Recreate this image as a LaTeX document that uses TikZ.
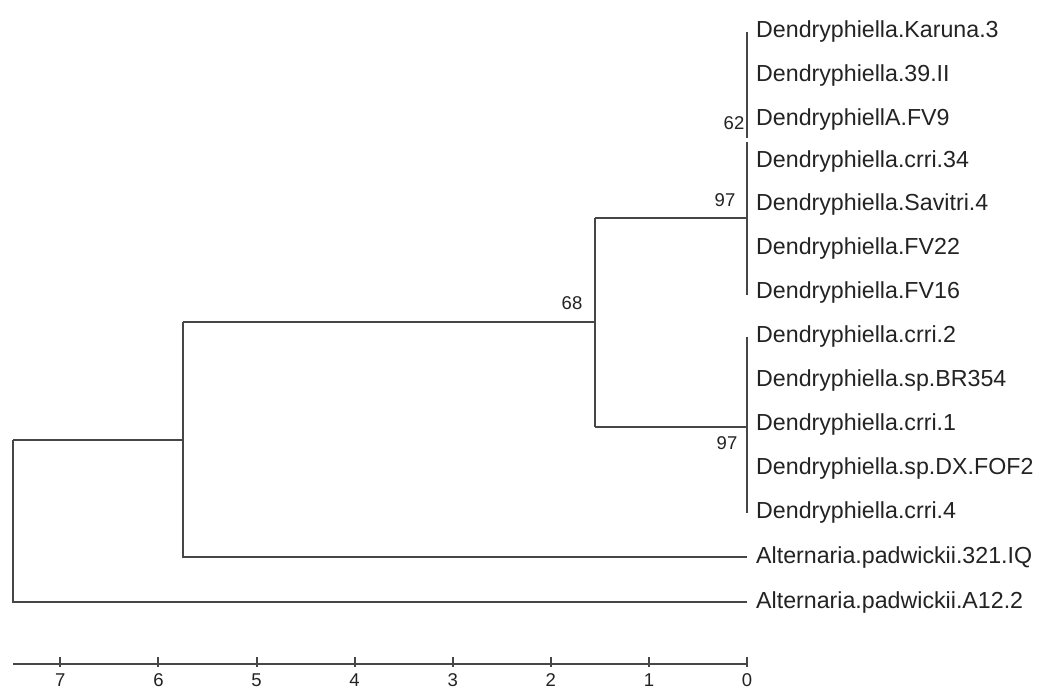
\documentclass[tikz,border=0pt]{standalone}
\usepackage{fontspec}
\setmainfont{Liberation Sans}
\usetikzlibrary{calc}
\definecolor{treeline}{RGB}{70,70,70}
\definecolor{txt}{RGB}{35,35,35}
\begin{document}
\begin{tikzpicture}[x=1pt,y=-1pt,
  branch/.style={draw=treeline,line width=2pt},
  leaf/.style={anchor=west,inner sep=0pt,font=\fontsize{23.2}{24}\selectfont,text=txt},
  boot/.style={inner sep=0pt,font=\fontsize{18.5}{20}\selectfont,text=txt},
  axlab/.style={anchor=base,inner sep=0pt,font=\fontsize{18.5}{20}\selectfont,text=txt}]
\useasboundingbox (0,0) rectangle (1040,689);
\fill[white] (0,0) rectangle (1040,689);
% leaves
\node[leaf] (L1) at (756,31) {Dendryphiella.Karuna.3};
\node[leaf] (L2) at (756,75) {Dendryphiella.39.II};
\node[leaf] (L3) at (756,119) {DendryphiellA.FV9};
\node[leaf] (L4) at (756,161) {Dendryphiella.crri.34};
\node[leaf] (L5) at (756,204) {Dendryphiella.Savitri.4};
\node[leaf] (L6) at (756,248) {Dendryphiella.FV22};
\node[leaf] (L7) at (756,292) {Dendryphiella.FV16};
\node[leaf] (L8) at (756,336) {Dendryphiella.crri.2};
\node[leaf] (L9) at (756,380) {Dendryphiella.sp.BR354};
\node[leaf] (L10) at (756,424) {Dendryphiella.crri.1};
\node[leaf] (L11) at (756,468) {Dendryphiella.sp.DX.FOF2};
\node[leaf] (L12) at (756,512) {Dendryphiella.crri.4};
\node[leaf] (L13) at (756,557) {Alternaria.padwickii.321.IQ};
\node[leaf] (L14) at (756,602) {Alternaria.padwickii.A12.2};
% internal nodes
\coordinate (root) at (13,440);
\coordinate (rootb) at (13,602);
\coordinate (n1) at (183,440);
\coordinate (n1t) at (183,322);
\coordinate (n1b) at (183,557);
\coordinate (n68) at (595,322);
\coordinate (n68t) at (595,218);
\coordinate (n68b) at (595,427);
\coordinate (c97a) at (747,218);
\coordinate (c62t) at (747,32);
\coordinate (c62b) at (747,138);
\coordinate (c97at) at (747,142);
\coordinate (c97ab) at (747,295);
\coordinate (c97b) at (747,427);
\coordinate (c97bt) at (747,337);
\coordinate (c97bb) at (747,513);
\coordinate (e13) at (747,557);
\coordinate (e14) at (747,602);
% branches
\draw[branch] (root) -- (rootb) -- (e14);
\draw[branch] (root) -- (n1);
\draw[branch] (n1t) -- (n1b) -- (e13);
\draw[branch] (n1t) -- (n68);
\draw[branch] (n68t) -- (n68b);
\draw[branch] (n68t) -- (c97a);
\draw[branch] (n68b) -- (c97b);
\draw[branch] (c62t) -- (c62b);
\draw[branch] (c97at) -- (c97ab);
\draw[branch] (c97bt) -- (c97bb);
% bootstrap values
\node[boot] (b62) at (734,123) {62};
\node[boot] (b97a) at (725,200) {97};
\node[boot] (b97b) at (727,443) {97};
\node[boot] (b68) at (572,303) {68};
% axis
\coordinate (ax0) at (747,664);
\coordinate (ax7) at (13,664);
\draw[branch] (ax7) -- (ax0);
\foreach \k in {0,...,7}{
  \coordinate (t\k) at ({747-98.1*\k},664);
  \draw[branch] ($(t\k)+(0,-7)$) -- ($(t\k)+(0,3)$);
  \node[axlab] (a\k) at ($(t\k)+(0,22.5)$) {\k};
}
\end{tikzpicture}
\end{document}
